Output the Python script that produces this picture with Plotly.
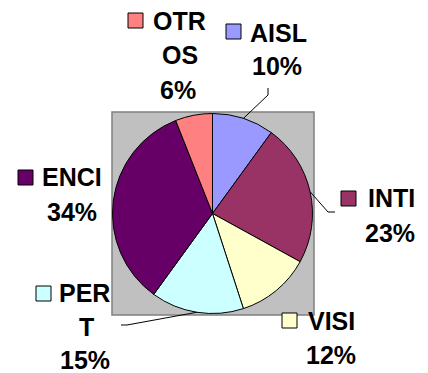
import math
import plotly.graph_objects as go

# Survey shares, clockwise from 12 o'clock
categories = ["AISL", "INTI", "VISI", "PERT", "ENCI", "OTROS"]
values = [10, 23, 12, 15, 34, 6]
colors = ["#9999FF", "#993366", "#FFFFCC", "#CCFFFF", "#660066", "#FF8080"]

W, H = 428, 373
CX, CY, R = 212.5, 213.5, 100.0


def px(x):
    return x / W


def py(y):
    return 1 - y / H


fig = go.Figure()
fig.add_trace(go.Pie(
    labels=categories,
    values=values,
    sort=False,
    direction="clockwise",
    rotation=0,
    marker=dict(colors=colors, line=dict(color="#000000", width=1)),
    textinfo="none",
    hoverinfo="label+percent",
    showlegend=False,
    domain=dict(x=[px(CX - R), px(CX + R)], y=[py(CY + R), py(CY - R)]),
))

shapes = []
# grey plot area behind the pie
shapes.append(dict(type="rect", xref="paper", yref="paper", layer="below",
                   x0=px(112), x1=px(314), y0=py(315), y1=py(112),
                   fillcolor="#C0C0C0", line=dict(color="#808080", width=1.5)))

total = sum(values)
pct = [round(100 * v / total) for v in values]

# label layout: key box (x0, y0), text lines [(text, x, y, anchor)], leader elbow points
label_layout = {
    "OTROS": dict(box=(128, 13), lines=[("OTR", 151, 21, "left"), ("OS", 180, 55, "center"), ("{p}%", 178, 90, "center")]),
    "AISL": dict(box=(226, 24), lines=[("AISL", 248, 33, "left"), ("{p}%", 277, 66, "center")],
                 leader=[(268, 88), (268, 95)]),
    "INTI": dict(box=(341, 191), lines=[("INTI", 366, 198, "left"), ("{p}%", 390, 233, "center")],
                 leader=[(335, 212), (328, 212)]),
    "ENCI": dict(box=(18, 170), lines=[("ENCI", 40, 177, "left"), ("{p}%", 72, 212, "center")]),
    "PERT": dict(box=(36, 286), lines=[("PER", 57, 293, "left"), ("T", 86, 327, "center"), ("{p}%", 85, 360, "center")],
                 leader=[(121, 325), (127, 325)]),
    "VISI": dict(box=(282, 313), lines=[("VISI", 306, 321, "left"), ("{p}%", 331, 355, "center")]),
}

annotations = []
cum = 0.0
for cat, val, col, p in zip(categories, values, colors, pct):
    mid = (cum + val / 2) / total * 2 * math.pi
    cum += val
    info = label_layout[cat]
    bx, by = info["box"]
    shapes.append(dict(type="rect", xref="paper", yref="paper",
                       x0=px(bx), x1=px(bx + 15), y0=py(by + 15), y1=py(by),
                       fillcolor=col, line=dict(color="#000000", width=1)))
    for text, tx, ty, anchor in info["lines"]:
        annotations.append(dict(text="<b>" + text.format(p=p) + "</b>", x=px(tx), y=py(ty),
                                xref="paper", yref="paper", xanchor=anchor, yanchor="middle",
                                showarrow=False,
                                font=dict(family="Liberation Sans, Arial", size=25, color="#000000")))
    if "leader" in info:
        ex = CX + R * math.sin(mid)
        ey = CY - R * math.cos(mid)
        pts = info["leader"] + [(ex, ey)]
        path = "M " + " L ".join(f"{px(x)},{py(y)}" for x, y in pts)
        shapes.append(dict(type="path", xref="paper", yref="paper", path=path,
                           line=dict(color="#000000", width=1)))

fig.update_layout(
    width=W, height=H,
    margin=dict(l=0, r=0, t=0, b=0),
    paper_bgcolor="#FFFFFF",
    plot_bgcolor="#FFFFFF",
    shapes=shapes,
    annotations=annotations,
)

fig.write_html("out.html")
